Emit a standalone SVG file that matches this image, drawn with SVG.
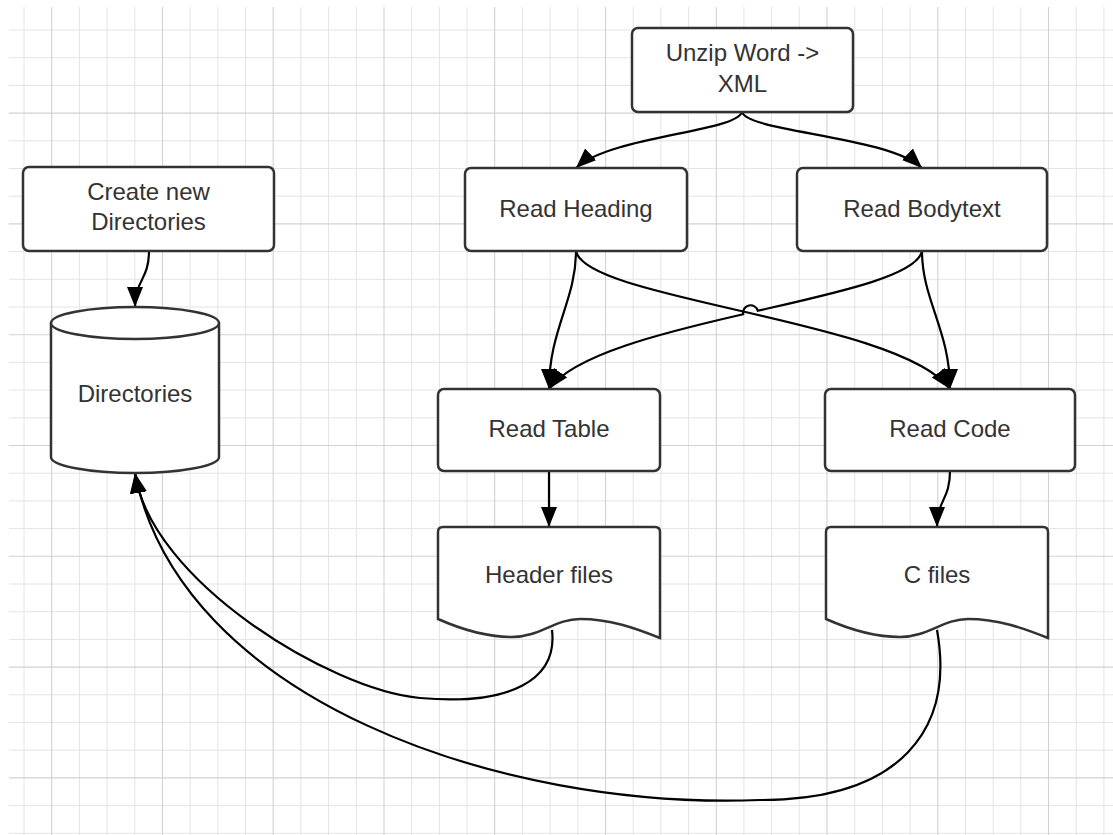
<svg xmlns="http://www.w3.org/2000/svg" width="1113" height="835" viewBox="0 0 1113 835">
<style>
.grid-minor{stroke:#e4e4e4;stroke-width:1;fill:none}
.grid-major{stroke:#d2d2d2;stroke-width:1.1;fill:none}
.box{fill:#fff;stroke:#333;stroke-width:2.5}
.lbl{font-family:"Liberation Sans",Arial,sans-serif;font-size:24px;fill:#333;text-anchor:middle}
.conn{fill:none;stroke:#000;stroke-width:2.2;marker-end:url(#arr)}
</style>
<defs>
<marker id="arr" markerUnits="userSpaceOnUse" markerWidth="22" markerHeight="18" refX="20" refY="8" orient="auto">
<path d="M0,0 L20,8 L0,16 z" fill="#000"/>
</marker>
<clipPath id="gclip"><rect x="9" y="7" width="1104" height="828"/></clipPath>
</defs>
<rect x="0" y="0" width="1113" height="835" fill="#fff"/>
<g id="grid" clip-path="url(#gclip)">
<path class="grid-minor" d="M24,7V835M79.4,7V835M107.1,7V835M134.8,7V835M190.1,7V835M217.8,7V835M245.5,7V835M300.9,7V835M328.6,7V835M356.3,7V835M411.7,7V835M439.4,7V835M467,7V835M522.4,7V835M550.1,7V835M577.8,7V835M633.2,7V835M660.9,7V835M688.6,7V835M743.9,7V835M771.6,7V835M799.3,7V835M854.7,7V835M882.4,7V835M910.1,7V835M965.5,7V835M993.2,7V835M1020.8,7V835M1076.2,7V835M1103.9,7V835
M9,30H1113M9,57.7H1113M9,85.4H1113M9,140.8H1113M9,168.5H1113M9,196.2H1113M9,251.6H1113M9,279.3H1113M9,307H1113M9,362.4H1113M9,390.1H1113M9,417.8H1113M9,473.2H1113M9,500.9H1113M9,528.6H1113M9,584H1113M9,611.7H1113M9,639.4H1113M9,694.8H1113M9,722.5H1113M9,750.2H1113M9,805.6H1113M9,833.3H1113"/>
<path class="grid-major" d="M51.7,7V835M162.5,7V835M273.2,7V835M384,7V835M494.7,7V835M605.5,7V835M716.3,7V835M827,7V835M937.8,7V835M1048.5,7V835
M9,113.1H1113M9,223.9H1113M9,334.7H1113M9,445.5H1113M9,556.3H1113M9,667.1H1113M9,777.9H1113"/>
</g>
<g id="connectors">
<path class="conn" d="M742,112 C736,132 610,136 576,168"/>
<path class="conn" d="M742,112 C748,132 888,136 922,168"/>
<path class="conn" d="M576,251 C576,300 549,330 549,389"/>
<path class="conn" d="M576,251 C585,300 900,320 950,389"/>
<path class="conn" d="M922,251 C917.5,275.5 836.5,292.75 757.8,310.8 A7.5,7.5 0 0 0 743.2,314.2 C664.5,332.25 573.5,354.5 549,389"/>
<path class="conn" d="M922,251 C922,300 950,330 950,389"/>
<path class="conn" d="M149,251 C149,280 135,280 135,307"/>
<path class="conn" d="M549,471 L549,527"/>
<path class="conn" d="M950,471 C950,500 937,500 937,527"/>
<path class="conn" d="M552,630 C558,680 510,706 420,698 C330,690 150,580 135,473"/>
<path class="conn" d="M937,630 C955,730 900,800 760,800 C500,810 180,700 135,473"/>
</g>
<g id="unzip">
<rect class="box" x="632" y="28" width="221" height="84" rx="6"/>
<text class="lbl" x="742.5" y="61">Unzip Word -&gt;</text>
<text class="lbl" x="742.5" y="92">XML</text>
</g>
<g id="create-dirs">
<rect class="box" x="23" y="167" width="251" height="84" rx="6"/>
<text class="lbl" x="148.5" y="200">Create new</text>
<text class="lbl" x="148.5" y="230">Directories</text>
</g>
<g id="read-heading">
<rect class="box" x="465" y="168" width="222" height="83" rx="6"/>
<text class="lbl" x="576" y="217">Read Heading</text>
</g>
<g id="read-bodytext">
<rect class="box" x="797" y="168" width="250" height="83" rx="6"/>
<text class="lbl" x="922" y="217">Read Bodytext</text>
</g>
<g id="directories">
<path class="box" d="M51,323 V457 A84,16 0 0 0 219,457 V323 A84,16 0 0 0 51,323 Z"/>
<path class="box" fill="none" d="M51,323 A84,16 0 0 0 219,323"/>
<text class="lbl" x="135" y="402">Directories</text>
</g>
<g id="read-table">
<rect class="box" x="438" y="389" width="222" height="82" rx="6"/>
<text class="lbl" x="549" y="437">Read Table</text>
</g>
<g id="read-code">
<rect class="box" x="825" y="389" width="250" height="82" rx="6"/>
<text class="lbl" x="950" y="437">Read Code</text>
</g>
<g id="header-files">
<path class="box" d="M438,619 V532 Q438,527 443,527 H655 Q660,527 660,532 V638 C635,628 610,619 580,619 C555,619 540,637 512,637 C488,637 465,631 438,619 Z"/>
<text class="lbl" x="549" y="583">Header files</text>
</g>
<g id="c-files">
<path class="box" d="M826,619 V532 Q826,527 831,527 H1043 Q1048,527 1048,532 V638 C1023,628 998,619 968,619 C943,619 928,637 900,637 C876,637 853,631 826,619 Z"/>
<text class="lbl" x="937" y="583">C files</text>
</g>
</svg>
